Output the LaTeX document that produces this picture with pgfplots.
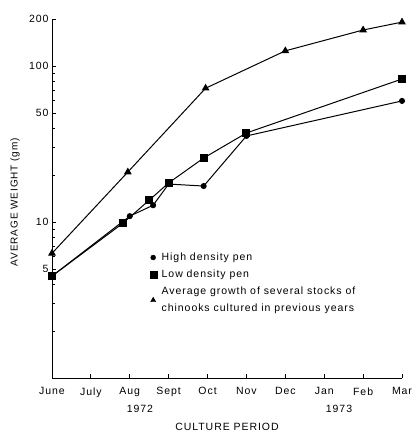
\documentclass[border=0pt]{standalone}
\usepackage{pgfplots}
\pgfplotsset{compat=1.18}
\usepackage{fontspec}
\setmainfont{Liberation Sans}[LetterSpace=9]
\begin{document}
\begin{tikzpicture}
\begin{axis}[
  at={(0,0)}, anchor=south west,
  scale only axis, width=350pt, height=359pt,
  xmin=0, xmax=9, ymin=1, ymax=200, ymode=log,
  axis x line*=bottom, axis y line*=left,
  axis line style={-, line width=0.9pt},
  xtick={0,1,2,3,4,5,6,7,8,9},
  xticklabels={June,July,Aug,Sept,Oct,Nov,Dec,Jan,Feb,Mar},
  ytick={5,10,50,100,200}, yticklabels={5,10,50,100,200},
  minor ytick={2,3,4,6,7,8,9,20,30,40,60,70,80,90},
  tick align=inside, major tick length=4pt, minor tick length=3.5pt,
  tick style={black, line width=0.8pt},
  ticklabel style={font=\fontsize{10.5}{12}\selectfont},
  xticklabel style={yshift=-6pt},
  /pgf/number format/assume math mode=true,
  clip=false,
  legend image code/.code={\draw[#1] plot coordinates {(0.1cm,0cm)};},
  legend style={draw=none, fill=none, at={(0.27,0.36)}, anchor=north west,
    font=\fontsize{10.5}{17}\selectfont, align=left, row sep=4pt,
    column sep=3pt, cells={anchor=west}},
]
\addplot[black, line width=1pt, mark=*, mark size=2.5pt, forget plot] coordinates {
(0,4.5) (2.0,10.9) (2.6,12.8) (3.0,17.5) (3.9,17.0) (5.0,35.6) (9,59.7)};
\addplot[black, line width=1pt, mark=square*, mark size=3.5pt, forget plot] coordinates {
(0,4.5) (1.83,9.85) (2.5,13.8) (3.0,17.8) (3.9,25.7) (5.0,37.2) (9,82.5)};
\addplot[black, line width=1pt, mark=triangle*, mark size=3.5pt, forget plot] coordinates {
(0,6.3) (1.95,20.9) (3.95,72) (6.0,125) (8.0,170) (9,191)};
\addlegendimage{only marks, black, mark=*, mark size=2.5pt}
\addlegendentry{High density pen}
\addlegendimage{only marks, black, mark=square*, mark size=3.5pt}
\addlegendentry{Low density pen}
\addlegendimage{only marks, black, mark=triangle*, mark size=3pt}
\addlegendentry{Average growth of several stocks of\\[0pt]chinooks cultured in previous years}
\node[yshift=-31pt] at (axis cs:2.26,1) {\fontsize{10.5}{12}\selectfont 1972};
\node[yshift=-31pt] at (axis cs:7.38,1) {\fontsize{10.5}{12}\selectfont 1973};
\node[yshift=-49pt] at (rel axis cs:0.5,0) {\fontsize{10.5}{12}\selectfont CULTURE PERIOD};
\node[xshift=-37pt, rotate=90] at (rel axis cs:0,0.49) {\fontsize{10}{12}\selectfont AVERAGE WEIGHT (gm)};
\end{axis}
\pgfresetboundingbox
\path[use as bounding box] (-52pt,-56pt) rectangle (363pt,378pt);
\end{tikzpicture}
\end{document}
